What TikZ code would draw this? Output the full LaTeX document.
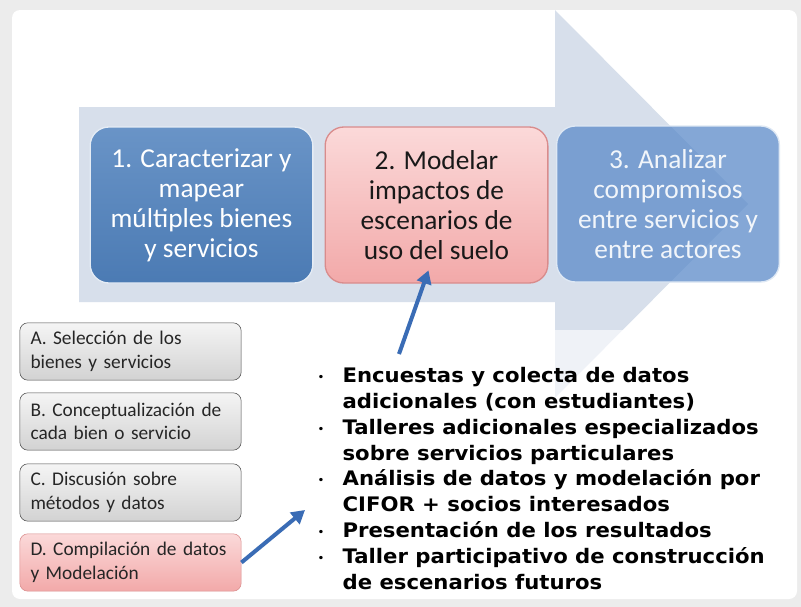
\documentclass[tikz,border=0pt]{standalone}
\usepackage{fontspec}
\setmainfont{Carlito}
\newfontfamily\listfont[FakeStretch=1.06]{DejaVu Sans}
\usetikzlibrary{arrows.meta}

\definecolor{pagegray}{HTML}{ECECEC}
\definecolor{arrowbg}{HTML}{D7DFEB}
\definecolor{stepblue}{HTML}{4F81BD}
\definecolor{fadeblue}{HTML}{5B8AC9}
\definecolor{pinktop}{HTML}{FBD9D9}
\definecolor{pinkbot}{HTML}{F2A9A9}
\definecolor{pinkline}{HTML}{D98C8C}
\definecolor{linkblue}{HTML}{3A6CB5}

\newcommand\itemdot{\makebox[19pt][l]{\hspace{0.5pt}\raisebox{1.5pt}{\scriptsize\textbullet}}}
\newcommand\itemgap{\hspace*{19pt}}

\tikzset{
  stepbox/.style={rounded corners=14pt, minimum width=167pt, minimum height=117pt,
    align=center, line width=1pt, font=\fontsize{20.5}{22.5}\selectfont},
  taskbox/.style={rounded corners=6pt, inner xsep=8pt, text width=150pt,
    minimum height=43pt, align=left, draw=gray!60!black, text=black!85,
    top color=gray!8, bottom color=gray!35, font=\fontsize{14.5}{17.5}\selectfont},
  link/.style={draw=linkblue, line width=3pt, -{Triangle[length=10pt,width=11pt]}}
}

\begin{document}
\begin{tikzpicture}[x=0.75pt, y=-0.75pt]
		\useasboundingbox (0,0) rectangle (801,607);
		\fill [pagegray] (0,0) rectangle (801,607);
		\fill [white, rounded corners=6pt] (12,10) rectangle (797,599);
		% big process arrow
		\fill [arrowbg] (79,107) -- (555,107) -- (555,10) -- (748,204)
			-- (555,398) -- (555,302) -- (79,302) -- cycle;
		\node [stepbox, draw=white!85!stepblue, top color=stepblue!85!white, bottom color=stepblue!95!black,
			text=white] (caract) at (201.5,205) {1. Caracterizar y\\mapear\\múltiples bienes\\y servicios};
		\node [stepbox, draw=pinkline, top color=pinktop, bottom color=pinkbot,
			text=black!90] (modelar) at (436.5,205) {2. Modelar\\impactos de\\escenarios de\\uso del suelo};
		\node [stepbox, draw=white!80!fadeblue, fill=fadeblue, fill opacity=0.75, text opacity=0.9,
			text=white] (analizar) at (668,204) {3. Analizar\\compromisos\\entre servicios y\\entre actores};
		% steps A to D
		\node [taskbox] (selec) at (130.5,351.5) {A. Selección de los\\bienes y servicios};
		\node [taskbox] (concep) at (130.5,421.5) {B. Conceptualización de\\cada bien o servicio};
		\node [taskbox] (discu) at (130.5,492.5) {C. Discusión sobre\\métodos y datos};
		\node [taskbox, draw=pinkline, top color=pinktop, bottom color=pinkbot] (compil) at (130.5,562.5)
			{D. Compilación de datos\\y Modelación};
		% activities
		\fill [white, opacity=0.6] (305,330) rectangle (792,597);
		\node [anchor=north west, inner sep=0pt, align=left,
			font=\listfont\bfseries\fontsize{15}{19.4}\selectfont] (activ) at (317,367) {%
			\itemdot Encuestas y colecta de datos\\
			\itemgap adicionales (con estudiantes)\\
			\itemdot Talleres adicionales especializados\\
			\itemgap sobre servicios particulares\\
			\itemdot Análisis de datos y modelación por\\
			\itemgap CIFOR + socios interesados\\
			\itemdot Presentación de los resultados\\
			\itemdot Taller participativo de construcción\\
			\itemgap de escenarios futuros};
		\coordinate (up) at (399,354);
		\coordinate (right) at (305,510);
		\draw [link] (up) -- ([xshift=-6pt,yshift=10pt]modelar.south);
		\draw [link] (compil.east) -- (right);
	\end{tikzpicture}
\end{document}
